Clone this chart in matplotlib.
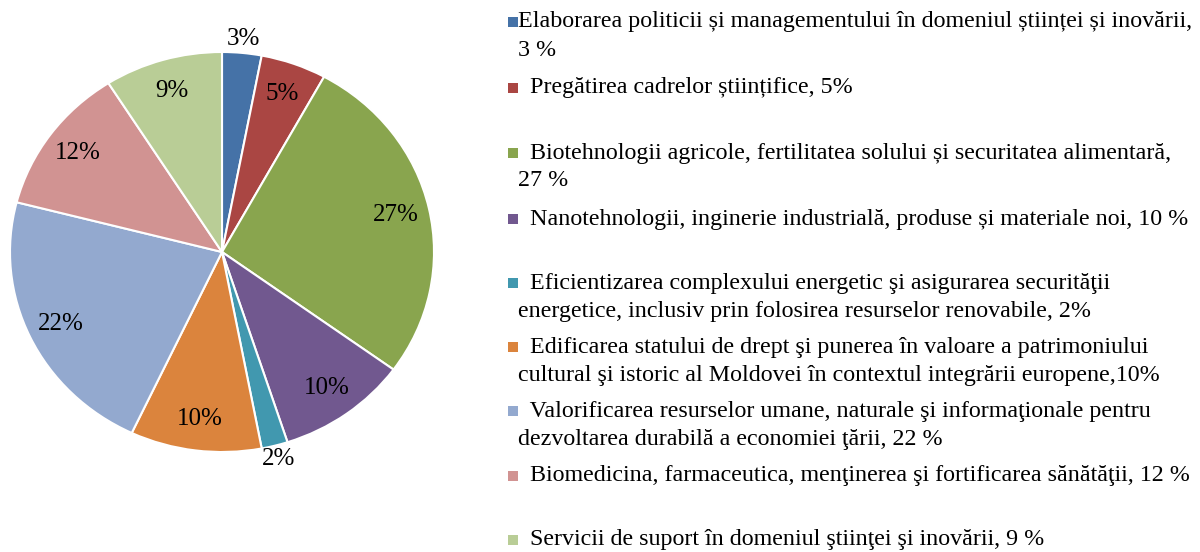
import matplotlib
matplotlib.use("Agg")
import matplotlib.pyplot as plt
from matplotlib.patches import Rectangle
import numpy as np

values = [3, 5, 27, 10, 2, 10, 22, 12, 9]
pct_labels = ["3%", "5%", "27%", "10%", "2%", "10%", "22%", "12%", "9%"]
colors = ["#4572A7", "#AA4643", "#89A54E", "#71588F", "#4198AF",
          "#DB843D", "#93A9CF", "#D19392", "#B9CD96"]
legend_lines = [
    ["Elaborarea politicii și managementului în domeniul științei și inovării,", "3 %"],
    [" Pregătirea cadrelor științifice, 5%"],
    [" Biotehnologii agricole, fertilitatea solului și securitatea alimentară,", "27 %"],
    [" Nanotehnologii, inginerie industrială, produse și materiale noi, 10 %"],
    [" Eficientizarea complexului energetic şi asigurarea securităţii", "energetice, inclusiv prin folosirea resurselor renovabile, 2%"],
    [" Edificarea statului de drept şi punerea în valoare a patrimoniului", "cultural şi istoric al Moldovei în contextul integrării europene,10%"],
    [" Valorificarea resurselor umane, naturale şi informaţionale pentru", "dezvoltarea durabilă a economiei ţării, 22 %"],
    [" Biomedicina, farmaceutica, menţinerea şi fortificarea sănătăţii, 12 %"],
    [" Servicii de suport în domeniul ştiinţei şi inovării, 9 %"],
]

W, H = 1200, 552
plt.rcParams['font.family'] = ['Liberation Serif', 'DejaVu Serif']
fig = plt.figure(figsize=(W / 100, H / 100), dpi=100)

# pie axes (pixel box: x 10..434, y 52..452 from top)
ax = fig.add_axes([10 / W, (H - 452) / H, 424 / W, 400 / H])
wedges, _ = ax.pie(values, colors=colors, startangle=90, counterclock=False,
                   radius=1, wedgeprops=dict(edgecolor="white", linewidth=1.5))
ax.set_xlim(-1, 1)
ax.set_ylim(-1, 1)
ax.set_aspect('auto')
ax.axis('off')

for w, lab, v in zip(wedges, pct_labels, values):
    th = np.deg2rad((w.theta1 + w.theta2) / 2)
    r = 1.07 if v <= 3 else 0.84
    ax.text(r * np.cos(th), r * np.sin(th), lab, ha='center', va='center',
            fontsize=18, color='black', clip_on=False)

# legend drawn manually
first_y = [22, 88, 153, 219, 283, 347, 411, 476, 540]
line_gap = 28
marker_x = 508

def fx(px):
    return px / W

def fy(py):
    return (H - py) / H

for lines, y0, c in zip(legend_lines, first_y, colors):
    fig.patches.append(Rectangle((fx(marker_x), fy(y0 + 5)), 10 / W, 10 / H,
                                 transform=fig.transFigure, facecolor=c,
                                 edgecolor='none'))
    for i, line in enumerate(lines):
        if i == 0:
            x = 524 if line.startswith(" ") else 518
        else:
            x = 518
        fig.text(fx(x), fy(y0 + i * line_gap), line, ha='left', va='center',
                 fontsize=17.3, color='black')

fig.savefig("out.png", dpi=100, facecolor='white')
